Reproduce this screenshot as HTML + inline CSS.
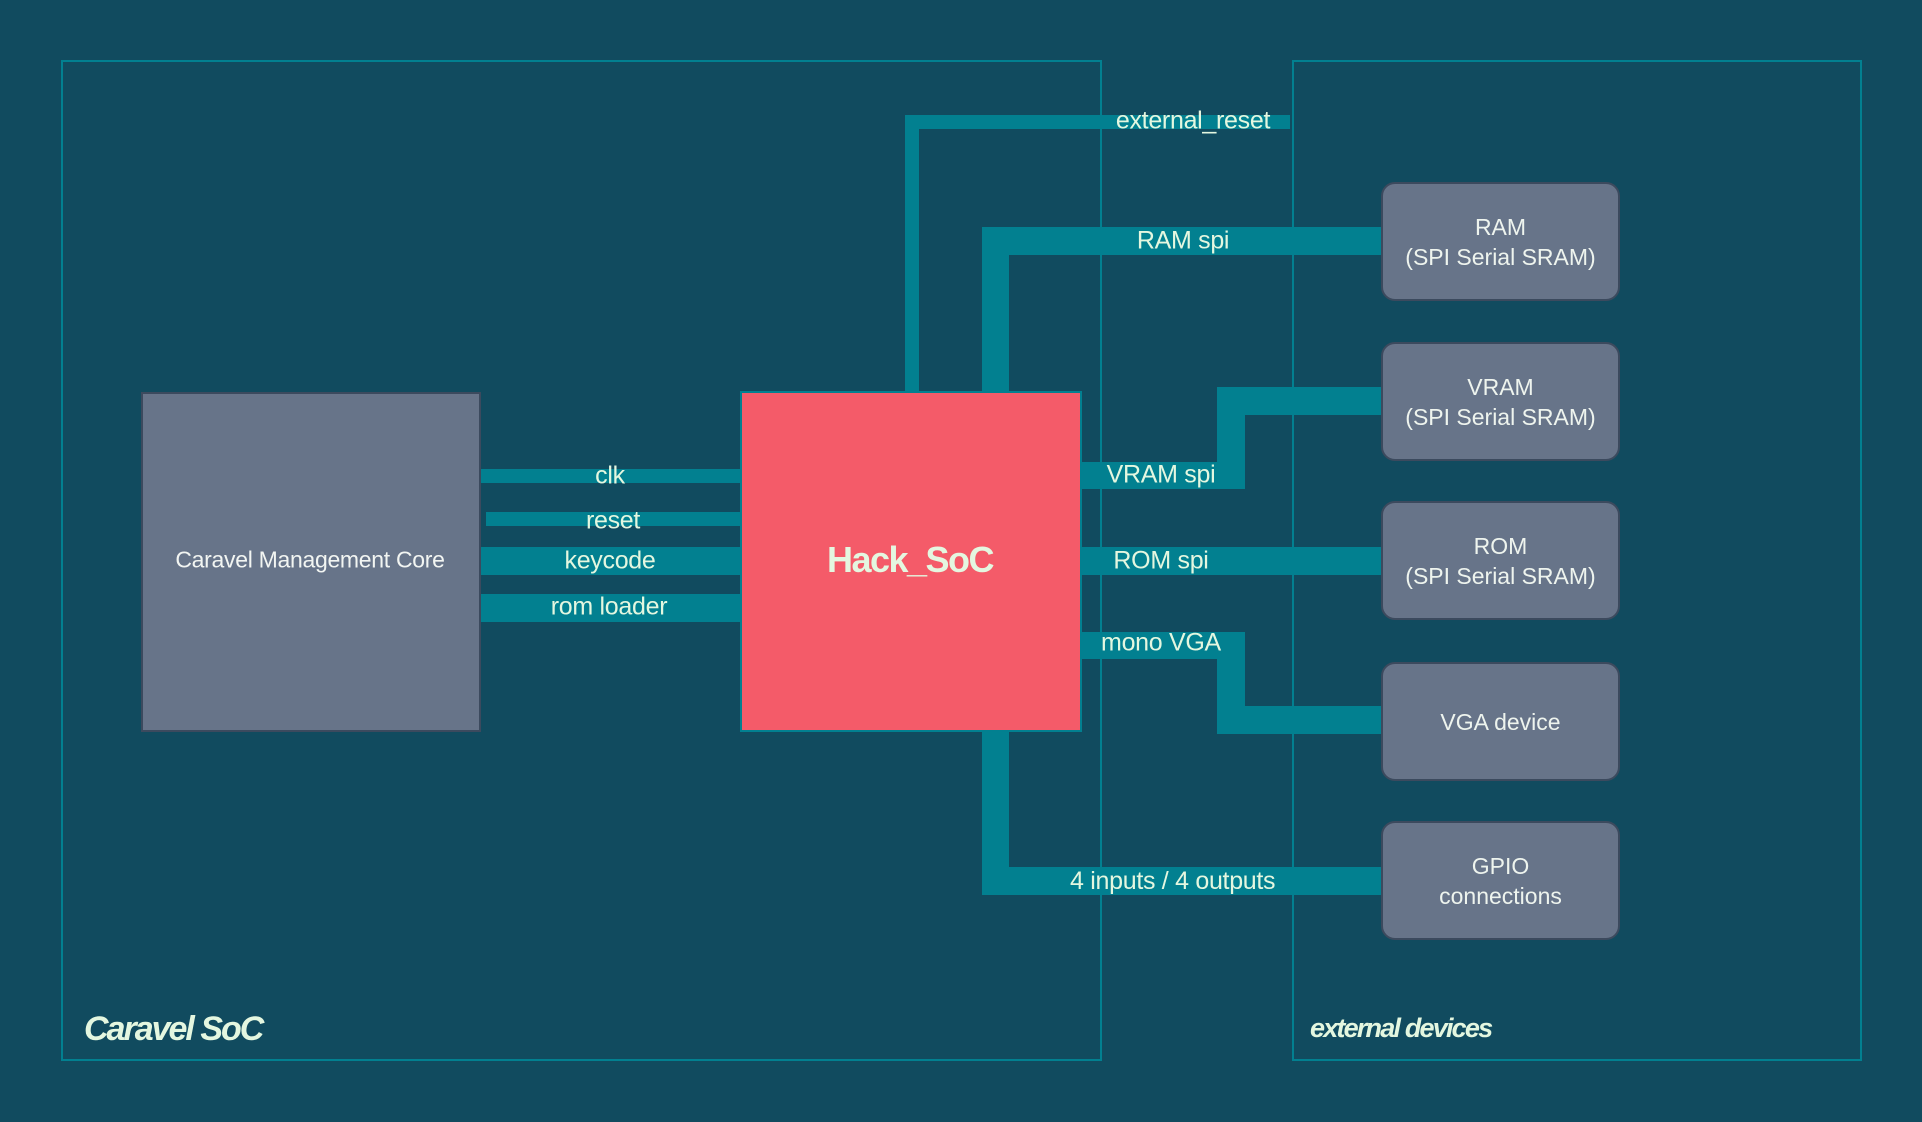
<!DOCTYPE html>
<html><head><meta charset="utf-8"><style>
body{margin:0;width:1922px;height:1122px;background:#114b5f;position:relative;overflow:hidden;font-family:"Liberation Sans",sans-serif;}
div{position:absolute;box-sizing:border-box;}
.f{border:2px solid #028090;}
.c{background:#028090;}
.t{color:#e4f7e0;font-size:25px;white-space:nowrap;transform:translate(-50%,-50%);letter-spacing:-0.3px;}
.d{background:#677489;border:2px solid #3c4a5e;border-radius:14px;color:#eef4ee;font-size:23px;display:flex;align-items:center;justify-content:center;text-align:center;line-height:30px;left:1381px;width:239px;height:119px;}
</style></head><body>
<div class="f" style="left:61px;top:60px;width:1041px;height:1001px"></div>
<div class="f" style="left:1292px;top:60px;width:570px;height:1001px"></div>

<!-- connectors -->
<div class="c" style="left:905px;top:115px;width:14px;height:278px"></div>
<div class="c" style="left:905px;top:115px;width:385px;height:14px"></div>
<div class="c" style="left:982px;top:227px;width:27px;height:166px"></div>
<div class="c" style="left:982px;top:227px;width:400px;height:28px"></div>
<div class="c" style="left:1080px;top:462px;width:165px;height:27px"></div>
<div class="c" style="left:1217px;top:387px;width:28px;height:102px"></div>
<div class="c" style="left:1217px;top:387px;width:165px;height:28px"></div>
<div class="c" style="left:1080px;top:547px;width:302px;height:28px"></div>
<div class="c" style="left:1080px;top:632px;width:165px;height:27px"></div>
<div class="c" style="left:1217px;top:632px;width:28px;height:102px"></div>
<div class="c" style="left:1217px;top:706px;width:165px;height:28px"></div>
<div class="c" style="left:982px;top:729px;width:27px;height:166px"></div>
<div class="c" style="left:982px;top:867px;width:400px;height:28px"></div>
<div class="c" style="left:480px;top:469px;width:262px;height:14px"></div>
<div class="c" style="left:486px;top:512px;width:256px;height:14px"></div>
<div class="c" style="left:480px;top:547px;width:262px;height:28px"></div>
<div class="c" style="left:480px;top:594px;width:262px;height:28px"></div>

<div style="left:141px;top:392px;width:340px;height:340px;background:#677489;border:2px solid #3c4a5e;"></div>
<div class="t" style="left:310px;top:560px;font-size:23px;color:#f2f5f2">Caravel Management Core</div>
<div style="left:740px;top:391px;width:342px;height:341px;background:#f45b69;border:2px solid #028090;"></div>
<div class="t" style="left:910px;top:560px;font-size:36px;font-weight:bold;letter-spacing:-1.5px">Hack_SoC</div>

<div class="t" style="left:610px;top:476px">clk</div>
<div class="t" style="left:613px;top:521px">reset</div>
<div class="t" style="left:610px;top:561px">keycode</div>
<div class="t" style="left:609px;top:607px">rom loader</div>
<div class="t" style="left:1193px;top:121px">external_reset</div>
<div class="t" style="left:1183px;top:241px">RAM spi</div>
<div class="t" style="left:1161px;top:475px">VRAM spi</div>
<div class="t" style="left:1161px;top:561px">ROM spi</div>
<div class="t" style="left:1161px;top:643px">mono VGA</div>
<div style="left:1070px;top:864px;width:224px;height:34px;overflow:hidden;color:#e4f7e0;font-size:25px;white-space:nowrap;line-height:34px;letter-spacing:-0.3px">4 inputs / 4 outputs</div>

<div class="d" style="top:182px">RAM<br>(SPI Serial SRAM)</div>
<div class="d" style="top:342px">VRAM<br>(SPI Serial SRAM)</div>
<div class="d" style="top:501px">ROM<br>(SPI Serial SRAM)</div>
<div class="d" style="top:662px">VGA device</div>
<div class="d" style="top:821px">GPIO<br>connections</div>

<div style="left:84px;top:1010px;color:#e4f7e0;font-size:34px;font-weight:bold;font-style:italic;letter-spacing:-2px;white-space:nowrap">Caravel SoC</div>
<div style="left:1310px;top:1013px;color:#e4f7e0;font-size:27px;font-weight:bold;font-style:italic;letter-spacing:-1.8px;white-space:nowrap">external devices</div>
</body></html>
